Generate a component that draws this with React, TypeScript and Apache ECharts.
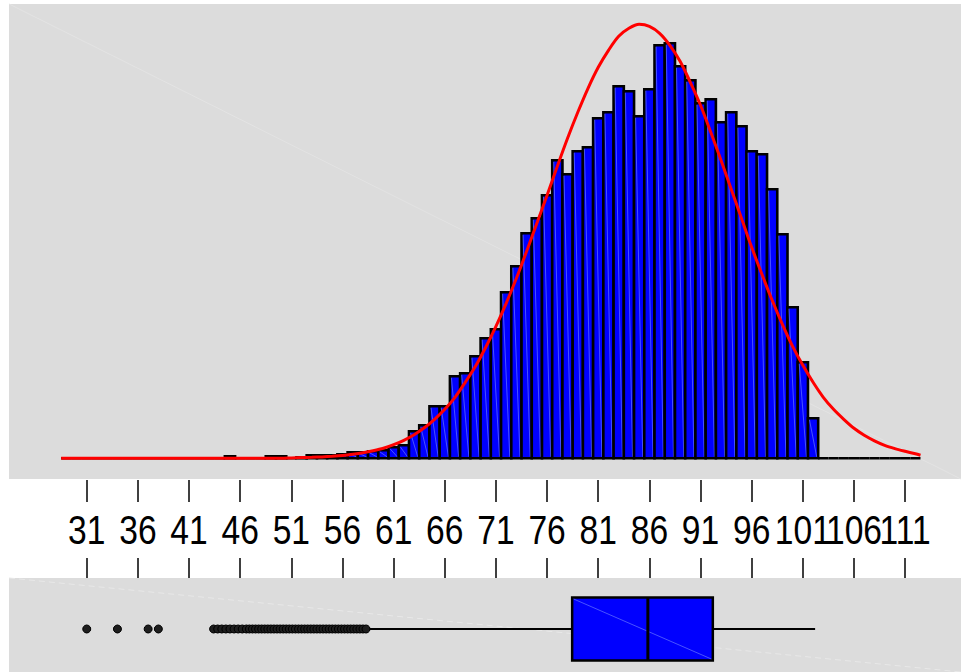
import React, { useEffect, useRef } from "react";
import * as echarts from "echarts";

// ---- data ----
const FIRST_BIN = 29; // bins are 1 unit wide, centred on integers 29 … 112
const binCounts = [
  0, 0, 0, 0, 0, 0, 0, 0, 0, 0, 0, 0, 0, 0, 0, 0, // 29-44
  2, 0, 0, 0, 2, 2, 0, 1, 3, 3, 3, // 45-55
  4, 6, 6, 7, 8, 11, 13, 27, 33, 52, 52, 82, 85, 102, 120, 129, // 56-71
  166, 192, 225, 240, 263, 298, 284, 307, 311, 340, 346, 372, 367, 342, 369, 413, // 72-87
  415, 392, 378, 355, 359, 336, 346, 332, 307, 304, 269, 224, 151, 96, 40, // 88-102
  0, 0, 0, 0, 0, 0, 0, 0, 0, 0, // 103-112
];

const curveX = [
  28.5, 35, 40, 45, 50,
  51, 52, 53, 54, 55, 56, 57, 58, 59, 60, 61, 62, 63, 64, 65, 66, 67, 68, 69, 70,
  71, 72, 73, 74, 75, 76, 77, 78, 79, 80, 81, 82, 83, 84, 85, 86, 87, 88, 89, 90,
  91, 92, 93, 94, 95, 96, 97, 98, 99, 100, 101, 102, 103, 104, 105, 106, 107, 108, 109, 110,
  111, 112, 112.5,
];
const curveY = [
  0, 0, 0, 0, 0,
  0.4, 0.7, 1, 1.4, 2, 2.8, 4, 5.5, 7.5, 10, 13.6, 18, 23.6, 30.5, 39, 49, 61, 76, 92, 111,
  132, 155, 180, 207, 235, 263, 292, 320, 346, 370, 391, 408, 422, 430, 434, 432, 425, 413, 397, 376,
  353, 326, 298, 269, 240, 211, 184, 158, 134, 112, 93, 76, 61, 49, 39, 30, 23, 17.5, 13, 9.7,
  7, 4.5, 3,
];

const tickValues = [31, 36, 41, 46, 51, 56, 61, 66, 71, 76, 81, 86, 91, 96, 101, 106, 111];

// lower whisker, Q1, median, Q3, upper whisker
const boxStats = [58.4, 78.45, 85.85, 92.2, 102.2];
const outliers = [
  31, 34, 37, 38, 43.4, 43.8, 44.2, 44.6, 45, 45.4, 45.8, 46.2, 46.6, 46.9, 47.2, 47.5,
  47.8, 48.1, 48.4, 48.7, 49, 49.3, 49.6, 49.9, 50.2, 50.5, 50.8, 51.1, 51.4, 51.7,
  52, 52.3, 52.6, 52.9, 53.2, 53.5, 53.8, 54.1, 54.4, 54.7, 55, 55.3, 55.6, 55.9,
  56.2, 56.5, 56.8, 57.1, 57.4, 57.7, 58, 58.3,
];

const X_MIN = 23.4;
const X_MAX = 116.46;
const BOX_Y = 43; // vertical centre of the box plot inside its panel (panel units)
const BOX_HALF = 31.5;
const LABEL_Y = 0.49; // vertical position of tick labels inside the axis band (0 = bottom, 1 = top)
const FONT_FAMILY = "'Liberation Sans', Arial, Helvetica, sans-serif";

export default function App() {
  const ref = useRef<HTMLDivElement>(null);

  useEffect(() => {
    if (!ref.current) return;
    const chart = echarts.init(ref.current, null, { renderer: "svg" });

    const bins = binCounts.map((c, i) => [FIRST_BIN + i, c]);
    const curve = curveX.map((x, i) => [x, curveY[i]]);

    const tickAxis = (position: "top" | "bottom", length: number) => ({
      type: "value",
      gridIndex: 1,
      position,
      min: X_MIN,
      max: X_MAX,
      axisLine: { show: false, onZero: false },
      axisTick: {
        show: true, inside: true, length, customValues: tickValues,
        lineStyle: { color: "#000", width: 1.5 },
      },
      axisLabel: { show: false },
      splitLine: { show: false },
    });

    const option: any = {
      animation: false,
      backgroundColor: "#ffffff",
      graphic: {
        elements: [
          { type: "rect", z: 0, shape: { x: 9, y: 4, width: 952, height: 475 }, style: { fill: "#dcdcdc" } },
          { type: "line", z: 1, shape: { x1: 9, y1: 4, x2: 961, y2: 479 }, style: { stroke: "#e3e3e3", lineWidth: 1 } },
          { type: "rect", z: 0, shape: { x: 9, y: 578, width: 952, height: 94 }, style: { fill: "#dcdcdc" } },
          { type: "line", z: 1, shape: { x1: 9, y1: 578, x2: 961, y2: 672 }, style: { stroke: "#e8e8e8", lineWidth: 1, lineDash: [6, 4] } },
        ],
      },
      grid: [
        { left: 9, top: 4, width: 952, height: 475 },
        { left: 9, top: 480, width: 952, height: 98 },
        { left: 9, top: 578, width: 952, height: 94 },
      ],
      xAxis: [
        { type: "value", gridIndex: 0, min: X_MIN, max: X_MAX, show: false },
        tickAxis("top", 22),
        tickAxis("bottom", 20),
        { type: "value", gridIndex: 2, min: X_MIN, max: X_MAX, show: false },
      ],
      yAxis: [
        { type: "value", gridIndex: 0, min: -20.7, max: 454.3, show: false },
        { type: "value", gridIndex: 1, min: 0, max: 1, show: false },
        { type: "value", gridIndex: 2, min: 0, max: 94, show: false },
      ],
      series: [
        {
          type: "custom",
          xAxisIndex: 0,
          yAxisIndex: 0,
          data: bins,
          encode: { x: 0, y: 1 },
          z: 3,
          renderItem: (_p: any, api: any) => {
            const k = api.value(0);
            const h = api.value(1);
            const tl = api.coord([k - 0.5, h]);
            const br = api.coord([k + 0.5, 0]);
            const children: any[] = [
              {
                type: "rect",
                shape: { x: tl[0], y: tl[1], width: br[0] - tl[0], height: br[1] - tl[1] },
                style: { fill: "#0000ff", stroke: "#000000", lineWidth: 2.6 },
              },
            ];
            if (br[1] - tl[1] > 4) {
              children.push({
                type: "line",
                shape: { x1: tl[0] + 1.5, y1: tl[1] + 1.5, x2: br[0] - 1.5, y2: br[1] - 1.5 },
                style: { stroke: "rgba(120,140,255,0.75)", lineWidth: 0.8 },
              });
            }
            return { type: "group", children };
          },
        },
        {
          type: "line",
          xAxisIndex: 0,
          yAxisIndex: 0,
          data: curve,
          showSymbol: false,
          smooth: 0.3,
          z: 5,
          lineStyle: { color: "#ff0000", width: 3 },
        },
        {
          // tick labels, placed through the axis scale (narrow, tall digits as in the reference)
          type: "custom",
          xAxisIndex: 1,
          yAxisIndex: 1,
          data: tickValues.map((v) => [v, LABEL_Y]),
          encode: { x: 0, y: 1 },
          z: 4,
          renderItem: (_p: any, api: any) => {
            const v = api.value(0);
            const p = api.coord([v, api.value(1)]);
            return {
              type: "text",
              x: p[0],
              y: p[1],
              scaleX: 0.82,
              style: {
                text: String(v),
                fontSize: 41,
                fontFamily: FONT_FAMILY,
                fill: "#000",
                align: "center",
                verticalAlign: "middle",
              },
            };
          },
        },
        {
          type: "custom",
          xAxisIndex: 3,
          yAxisIndex: 2,
          data: [[BOX_Y, ...boxStats]],
          encode: { y: 0, x: [1, 2, 3, 4, 5] },
          z: 4,
          renderItem: (_p: any, api: any) => {
            const yv = api.value(0);
            const lo = api.coord([api.value(1), yv]);
            const q1 = api.coord([api.value(2), yv]);
            const md = api.coord([api.value(3), yv]);
            const q3 = api.coord([api.value(4), yv]);
            const hi = api.coord([api.value(5), yv]);
            const top = api.coord([api.value(2), yv + BOX_HALF])[1];
            const bot = api.coord([api.value(2), yv - BOX_HALF])[1];
            const yc = md[1];
            return {
              type: "group",
              children: [
                { type: "line", shape: { x1: lo[0], y1: yc, x2: q1[0], y2: yc }, style: { stroke: "#000", lineWidth: 2 } },
                { type: "line", shape: { x1: q3[0], y1: yc, x2: hi[0], y2: yc }, style: { stroke: "#000", lineWidth: 2 } },
                {
                  type: "rect",
                  shape: { x: q1[0], y: top, width: q3[0] - q1[0], height: bot - top },
                  style: { fill: "#0000ff", stroke: "#000", lineWidth: 2.5 },
                },
                {
                  type: "line",
                  shape: { x1: q1[0] + 1.5, y1: top + 1.5, x2: q3[0] - 1.5, y2: bot - 1.5 },
                  style: { stroke: "rgba(120,140,255,0.75)", lineWidth: 0.8 },
                },
                { type: "line", shape: { x1: md[0], y1: top, x2: md[0], y2: bot }, style: { stroke: "#000", lineWidth: 3 } },
              ],
            };
          },
        },
        {
          type: "scatter",
          xAxisIndex: 3,
          yAxisIndex: 2,
          data: outliers.map((v) => [v, BOX_Y]),
          symbol: "circle",
          symbolSize: 8,
          z: 6,
          itemStyle: { color: "#1e1e1e", borderColor: "#000", borderWidth: 1, opacity: 1 },
        },
      ],
    };

    chart.setOption(option);
    return () => chart.dispose();
  }, []);

  return (
    <div
      ref={ref}
      style={{ position: "fixed", left: 0, top: 0, width: 961, height: 672 }}
    />
  );
}
